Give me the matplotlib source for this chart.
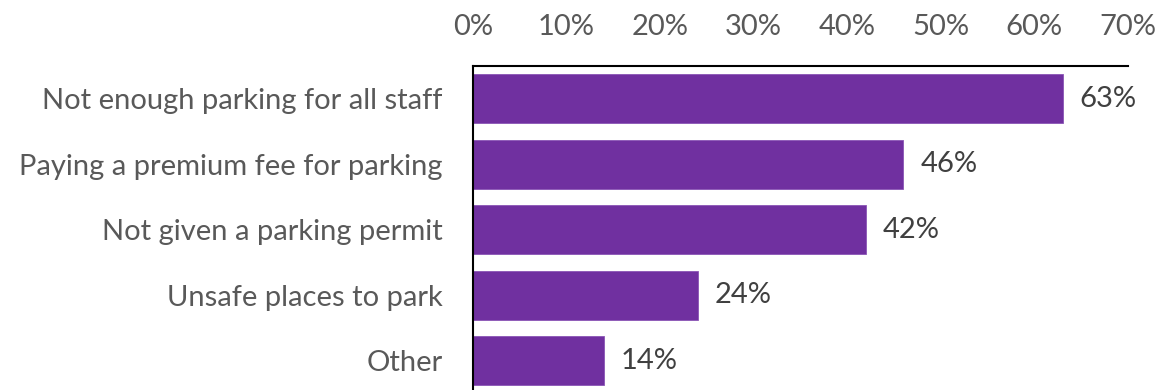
import matplotlib.pyplot as plt
from matplotlib.ticker import FuncFormatter

categories = ['Not enough parking for all staff', 'Paying a premium fee for parking',
              'Not given a parking permit', 'Unsafe places to park', 'Other']
shares = [0.63, 0.46, 0.42, 0.24, 0.14]
xticks = [0, 0.1, 0.2, 0.3, 0.4, 0.5, 0.6, 0.7]

plt.rcParams['font.family'] = ['Lato', 'DejaVu Sans']

fig = plt.figure(figsize=(11.66, 3.9), dpi=100)
ax = fig.add_axes([473 / 1166, 0, (1128 - 473) / 1166, 1 - 66 / 390])

ypos = list(range(len(categories)))
ax.barh(ypos, shares, height=0.75, color='#7030A0', edgecolor='#8A55B5', linewidth=0.6)

for y, v in zip(ypos, shares):
    ax.text(v + 0.018, y, f'{round(v * 100)}%', va='center', ha='left',
            fontsize=21, color='#404040')

ax.set_xlim(0, 0.7)
ax.set_ylim(4.45, -0.5)
ax.set_yticks(ypos)
ax.set_yticklabels(categories)
ax.set_xticks(xticks)
ax.xaxis.set_major_formatter(FuncFormatter(lambda v, _: f'{round(v * 100)}%'))
ax.xaxis.tick_top()

ax.tick_params(axis='x', length=0, pad=19, labelsize=21, labelcolor='#595959')
ax.tick_params(axis='y', length=0, pad=22, labelsize=21, labelcolor='#595959')

for side in ['right', 'bottom']:
    ax.spines[side].set_visible(False)
for side in ['top', 'left']:
    ax.spines[side].set_color('black')
    ax.spines[side].set_linewidth(1.5)

fig.savefig('out.png', dpi=100)
